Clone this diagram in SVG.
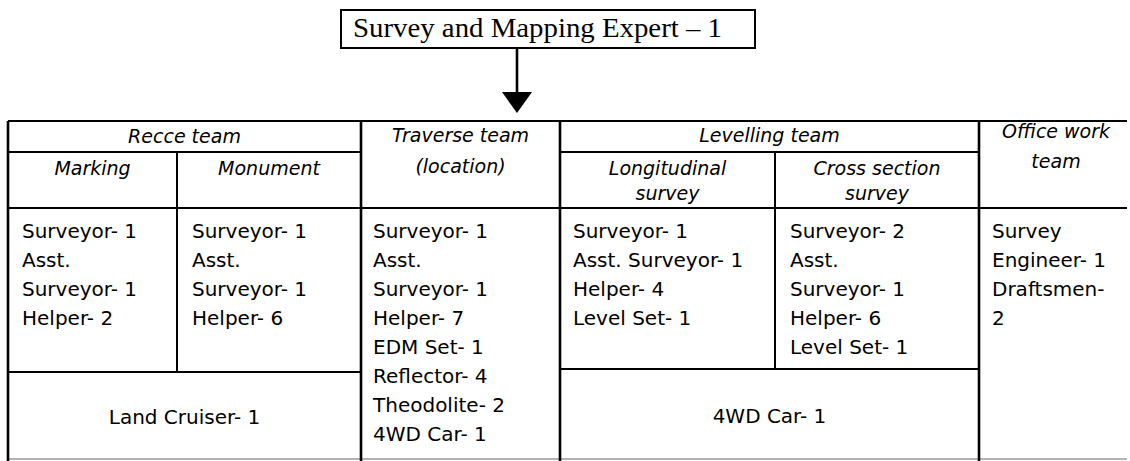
<svg xmlns="http://www.w3.org/2000/svg" width="1130" height="461" viewBox="0 0 1130 461">
  <defs>
    <style>
      .ln { stroke: #000; stroke-width: 2; fill: none; }
      .lnb { stroke: #000; stroke-width: 2.6; fill: none; }
      .lnl { stroke: #999; stroke-width: 1.5; fill: none; }
      .title { font-family: "Liberation Serif", "Times New Roman", serif; font-size: 27px; fill: #000; }
      .hd { font-family: "DejaVu Sans", "Liberation Sans", sans-serif; font-style: italic; font-size: 19px; fill: #000; text-anchor: middle; }
      .dt { font-family: "DejaVu Sans", "Liberation Sans", sans-serif; font-size: 20px; fill: #000; }
      .dtc { font-family: "DejaVu Sans", "Liberation Sans", sans-serif; font-size: 20px; fill: #000; text-anchor: middle; }
    </style>
  </defs>
  <rect width="1130" height="461" fill="#fff"/>

  <g id="expert">
    <rect x="341" y="10" width="414" height="38" class="ln"/>
    <text x="353" y="37" class="title" textLength="369" lengthAdjust="spacingAndGlyphs">Survey and Mapping Expert – 1</text>
  </g>

  <g id="connectors">
    <line x1="517" y1="48" x2="517" y2="93" class="lnb"/>
    <polygon points="502,92 532,92 517,113" fill="#000"/>
  </g>

  <g id="table-grid">
    <line x1="8" y1="121" x2="1127" y2="121" class="ln"/>
    <line x1="8" y1="152" x2="361" y2="152" class="ln"/>
    <line x1="560" y1="152" x2="979" y2="152" class="ln"/>
    <line x1="8" y1="208" x2="1127" y2="208" class="ln"/>
    <line x1="8" y1="372" x2="361" y2="372" class="ln"/>
    <line x1="560" y1="369" x2="979" y2="369" class="ln"/>
    <line x1="8" y1="459" x2="1127" y2="459" class="lnl"/>
    <line x1="8" y1="121" x2="8" y2="461" class="lnb"/>
    <line x1="177" y1="152" x2="177" y2="372" class="ln"/>
    <line x1="361" y1="121" x2="361" y2="461" class="lnb"/>
    <line x1="560" y1="121" x2="560" y2="461" class="lnb"/>
    <line x1="775" y1="152" x2="775" y2="369" class="ln"/>
    <line x1="979" y1="121" x2="979" y2="461" class="lnb"/>
  </g>

  <g id="recce">
    <text x="184.5" y="143" class="hd">Recce team</text>
  </g>
  <g id="marking">
    <text x="92.5" y="175" class="hd">Marking</text>
    <text class="dt"><tspan x="22" y="238">Surveyor- 1</tspan><tspan x="22" y="267">Asst.</tspan><tspan x="22" y="296">Surveyor- 1</tspan><tspan x="22" y="325">Helper- 2</tspan></text>
  </g>
  <g id="monument">
    <text x="269" y="175" class="hd">Monument</text>
    <text class="dt"><tspan x="192" y="238">Surveyor- 1</tspan><tspan x="192" y="267">Asst.</tspan><tspan x="192" y="296">Surveyor- 1</tspan><tspan x="192" y="325">Helper- 6</tspan></text>
  </g>
  <g id="recce-vehicle">
    <text x="184.5" y="424" class="dtc">Land Cruiser- 1</text>
  </g>

  <g id="traverse">
    <text x="460.5" y="142" class="hd">Traverse team</text>
    <text x="460.5" y="173" class="hd">(location)</text>
    <text class="dt"><tspan x="373" y="238">Surveyor- 1</tspan><tspan x="373" y="267">Asst.</tspan><tspan x="373" y="296">Surveyor- 1</tspan><tspan x="373" y="325">Helper- 7</tspan><tspan x="373" y="354">EDM Set- 1</tspan><tspan x="373" y="383">Reflector- 4</tspan><tspan x="373" y="412">Theodolite- 2</tspan><tspan x="373" y="441">4WD Car- 1</tspan></text>
  </g>

  <g id="levelling">
    <text x="769.5" y="142" class="hd">Levelling team</text>
  </g>
  <g id="longitudinal">
    <text x="667.5" y="175" class="hd">Longitudinal</text>
    <text x="667.5" y="200" class="hd">survey</text>
    <text class="dt"><tspan x="573" y="238">Surveyor- 1</tspan><tspan x="573" y="267">Asst. Surveyor- 1</tspan><tspan x="573" y="296">Helper- 4</tspan><tspan x="573" y="325">Level Set- 1</tspan></text>
  </g>
  <g id="cross-section">
    <text x="877" y="175" class="hd">Cross section</text>
    <text x="877" y="200" class="hd">survey</text>
    <text class="dt"><tspan x="790" y="238">Surveyor- 2</tspan><tspan x="790" y="267">Asst.</tspan><tspan x="790" y="296">Surveyor- 1</tspan><tspan x="790" y="325">Helper- 6</tspan><tspan x="790" y="354">Level Set- 1</tspan></text>
  </g>
  <g id="levelling-vehicle">
    <text x="769.5" y="423" class="dtc">4WD Car- 1</text>
  </g>

  <g id="office">
    <text x="1056" y="138" class="hd">Office work</text>
    <text x="1056" y="168" class="hd">team</text>
    <text class="dt"><tspan x="992" y="238">Survey</tspan><tspan x="992" y="267">Engineer- 1</tspan><tspan x="992" y="296">Draftsmen-</tspan><tspan x="992" y="325">2</tspan></text>
  </g>
</svg>
